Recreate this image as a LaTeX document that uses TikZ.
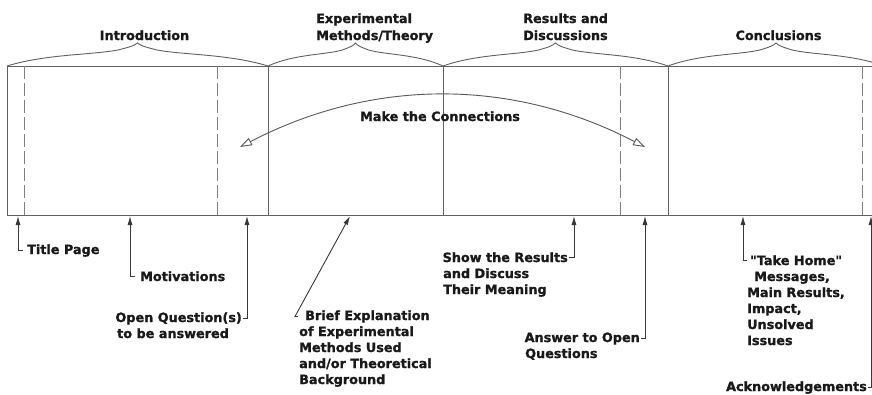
\documentclass[tikz,border=0pt]{standalone}
\usepackage{fontspec}
\setmainfont{DejaVu Sans}[Ligatures=TeXOff, BoldFeatures={FakeBold=1.2}]
\usetikzlibrary{arrows.meta}
\tikzset{
  frameline/.style={draw=black!62, line width=1pt},
  dashline/.style={draw=black!50, line width=1pt, dash pattern=on 13pt off 4pt},
  bracel/.style={draw=black!62, line width=0.9pt},
  lbl/.style={inner sep=0pt, text=black!90, font=\bfseries\fontsize{12.8}{16}\selectfont},
  conn/.style={draw=black!78, line width=0.9pt, -{Latex[length=9pt,width=5pt]}},
  bigarrow/.style={draw=black!65, line width=0.9pt, {Triangle[open,length=12pt,width=8pt]}-{Triangle[open,length=12pt,width=8pt]}}
}
\begin{document}
\begin{tikzpicture}[x=1pt,y=-1pt]
\useasboundingbox (0,0) rectangle (872,394);
\clip (0,0) rectangle (872,394);
\fill[white] (0,0) rectangle (872,394);

% frame
\draw[frameline] (900,66) -- (7,66) -- (7,215) -- (900,215);
\foreach \x in {268,443,668} \draw[frameline] (\x,66) -- (\x,215);
\foreach \x in {24,217,620,862} \draw[dashline] (\x,66) -- (\x,215);

% braces
\foreach \xl/\xr in {7/268, 268/443, 443/668, 668/884} {
  \pgfmathsetmacro\xm{(\xl+\xr)/2}
  \pgfmathsetmacro\hw{(\xr-\xl)/2}
  \draw[bracel] (\xl,66) .. controls ({\xl+0.3*\hw},54) and ({\xm-0.35*\hw},55) .. ({\xm-0.15*\hw},50)
     .. controls ({\xm-0.06*\hw},47) and ({\xm-0.03*\hw},46) .. (\xm,43)
     .. controls ({\xm+0.03*\hw},46) and ({\xm+0.06*\hw},47) .. ({\xm+0.15*\hw},50)
     .. controls ({\xm+0.35*\hw},55) and ({\xr-0.3*\hw},54) .. (\xr,66);
}

% section titles
\node[lbl, anchor=base] (intro) at (144.5,40) {Introduction};
\node[lbl, anchor=base west] (exp1) at (316,23) {Experimental};
\node[lbl, anchor=base west] (exp2) at (316,40) {Methods/Theory};
\node[lbl, anchor=base west] (res1) at (523,23) {Results and};
\node[lbl, anchor=base west] (res2) at (523,40) {Discussions};
\node[lbl, anchor=base] (concl) at (778.5,40) {Conclusions};

% make the connections
\coordinate (cL) at (240,147);
\coordinate (cR) at (645,147);
\draw[bigarrow] (cL) .. controls (373,78) and (512,78) .. (cR);
\node[lbl, anchor=base] (mtc) at (440,121) {Make the Connections};

% arrow tips on the bottom line
\coordinate (tTitle) at (18,216);
\coordinate (tMot) at (130,216);
\coordinate (tOQ) at (247,216);
\coordinate (tBrief) at (350,216);
\coordinate (tShow) at (574,216);
\coordinate (tAns) at (645,216);
\coordinate (tTake) at (743,216);
\coordinate (tAck) at (871,216);

% bottom labels
\node[lbl, anchor=base west] (title) at (27,254) {Title Page};
\node[lbl, anchor=base west] (mot) at (140,281) {Motivations};
\node[lbl, anchor=base east] (oq1) at (242,322) {Open Question(s)};
\node[lbl, anchor=base west] (oq2) at (117,338) {to be answered};
\node[lbl, anchor=base west] (br1) at (305,320) {Brief Explanation};
\node[lbl, anchor=base west] (br2) at (299,336) {of Experimental};
\node[lbl, anchor=base west] (br3) at (299,352) {Methods Used};
\node[lbl, anchor=base west] (br4) at (299,368) {and/or Theoretical};
\node[lbl, anchor=base west] (br5) at (299,384) {Background};
\node[lbl, anchor=base east] (sh1) at (568,262) {Show the Results};
\node[lbl, anchor=base west] (sh2) at (443,278) {and Discuss};
\node[lbl, anchor=base west] (sh3) at (443,294) {Their Meaning};
\node[lbl, anchor=base east] (an1) at (640,342) {Answer to Open};
\node[lbl, anchor=base west] (an2) at (525,358) {Questions};
\node[lbl, anchor=base west] (tk1) at (750,265) {"Take Home"};
\node[lbl, anchor=base west] (tk2) at (754,281) {Messages,};
\node[lbl, anchor=base west] (tk3) at (747,297) {Main Results,};
\node[lbl, anchor=base west] (tk4) at (747,313) {Impact,};
\node[lbl, anchor=base west] (tk5) at (747,329) {Unsolved};
\node[lbl, anchor=base west] (tk6) at (747,345) {Issues};
\node[lbl, anchor=base east] (ack) at (867,391) {Acknowledgements};

% connectors
\draw[conn] ([xshift=-4pt]title.west) -| (tTitle);
\draw[conn] ([xshift=-5pt]mot.west) -| (tMot);
\draw[conn] ([xshift=1pt]oq1.east) -| (tOQ);
\draw[conn] ([xshift=-7pt]br1.west) -- ([xshift=-10pt]br1.west) -- (tBrief);
\draw[conn] ([xshift=1pt]sh1.east) -| (tShow);
\draw[conn] ([xshift=1pt]an1.east) -| (tAns);
\draw[conn] ([xshift=-3pt]tk1.west) -| (tTake);
\draw[conn] ([xshift=1pt]ack.east) -| (tAck);
\end{tikzpicture}
\end{document}
